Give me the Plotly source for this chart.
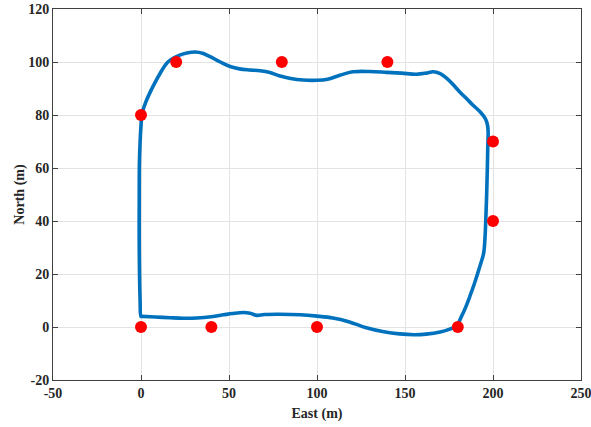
import plotly.graph_objects as go

# Trajectory (East, North) in metres
path_east = [0, -0.5, -1, -1, -0.9, -0.5, 0, 0.6, 2.5, 5.5, 9, 12, 15, 18.5, 22, 26, 30.8, 35, 39.3, 45, 50.6,
             56, 62, 67.7, 73.3, 79, 85, 92, 99.8, 106, 113, 120.6, 130, 139.5, 148, 156.5, 162, 166, 170,
             173.6, 177.3, 181, 184.9, 188.5, 192.5, 195.3, 196.6, 197.2, 197, 196.8, 196.4, 195.9, 195.4,
             194.7, 192.5, 189.5, 186.8, 184.5, 182.1, 179.2, 175, 170, 162, 155, 147, 138, 128, 118, 109, 100,
             90.4, 79, 70, 65.8, 62, 58.2, 52, 46.9, 40, 31.8, 24, 16.6, 8, 0.6, 0]
path_north = [4, 10, 30, 50, 62, 70, 76, 80.5, 84.5, 89, 93.5, 97, 99.8, 101.5, 102.6, 103.4, 103.8, 103.3,
              102, 100, 98.3, 97.4, 97, 96.7, 96, 94.7, 93.8, 93.2, 93.1, 93.5, 95, 96.3, 96.4, 96.1, 95.8,
              95.4, 95.8, 96.3, 95.6, 93.9, 91.5, 88.8, 86.2, 83.8, 81.3, 79, 77, 74.4, 67, 60.5, 50, 40.4, 33,
              27.9, 22.8, 16.5, 11.5, 7.5, 4, 0.4, -0.9, -1.9, -2.7, -2.9, -2.6, -1.8, -0.3, 2.0, 3.4, 4.1,
              4.6, 4.8, 4.7, 4.4, 5.2, 5.5, 5.1, 4.6, 3.9, 3.4, 3.3, 3.5, 3.8, 4.0, 4]

# Waypoints
wp_east = [0, 40, 100, 180, 200, 200, 140, 80, 20, 0]
wp_north = [0, 0, 0, 0, 40, 70, 100, 100, 100, 80]

x_ticks = [-50, 0, 50, 100, 150, 200, 250]
y_ticks = [-20, 0, 20, 40, 60, 80, 100, 120]

fig = go.Figure()
fig.add_trace(go.Scatter(x=path_east, y=path_north, mode="lines",
                         line=dict(color="#0072BD", width=3.6, shape="spline", smoothing=1.0),
                         showlegend=False, hoverinfo="skip"))
fig.add_trace(go.Scatter(x=wp_east, y=wp_north, mode="markers",
                         marker=dict(color="#FF0000", size=12, symbol="circle"),
                         showlegend=False))

font = dict(family="Liberation Serif", size=14, color="#262626", weight="bold")
axis_common = dict(showgrid=True, gridcolor="#e3e3e3", gridwidth=1, zeroline=False,
                   showline=True, linecolor="#404040", linewidth=1, mirror="ticks",
                   ticks="inside", ticklen=5, tickcolor="#404040", tickfont=font,
                   ticklabeloverflow="allow", automargin=False)

fig.update_xaxes(range=[-50, 250], tickvals=x_ticks, ticktext=[str(v) for v in x_ticks],
                 title=dict(text="East (m)", font=font, standoff=8), **axis_common)
fig.update_yaxes(range=[-20, 120], tickvals=y_ticks, ticktext=[str(v) for v in y_ticks],
                 title=dict(text="North (m)", font=font, standoff=0), **axis_common)

fig.update_layout(width=591, height=427, margin=dict(l=53, r=10, t=9, b=47),
                  plot_bgcolor="white", paper_bgcolor="white", font=font)

fig.write_html("out.html")
